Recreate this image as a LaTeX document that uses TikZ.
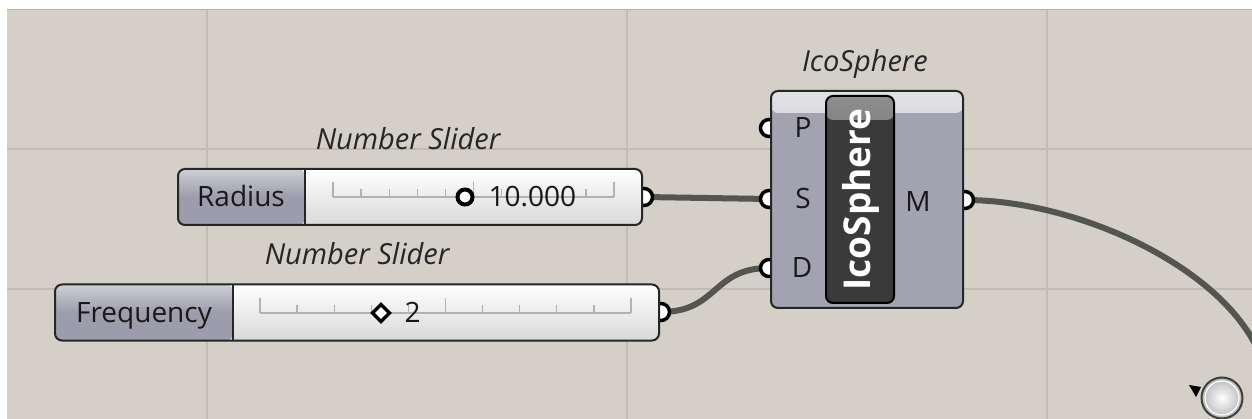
\documentclass[tikz,border=0pt]{standalone}
\usepackage{fontspec}
\setmainfont{Open Sans}
\usepackage{tikz}
\usetikzlibrary{positioning,shapes.misc}

\definecolor{canvas}{HTML}{D4D0C8}
\definecolor{gridline}{HTML}{C1BDB5}
\definecolor{wire}{HTML}{55554F}
\definecolor{tagfill}{HTML}{9C9CAC}
\definecolor{tagtop}{HTML}{CFCFD8}
\definecolor{compfill}{HTML}{A2A2B0}
\definecolor{comptop}{HTML}{E2E2E6}
\definecolor{namefill}{HTML}{3A3A3A}
\definecolor{nametop}{HTML}{8E8E8E}
\definecolor{tickgray}{HTML}{B2B2B2}

\tikzset{
	port/.style={circle,draw=black,fill=white,line width=3.5pt,minimum size=17pt,inner sep=0pt},
	wirepath/.style={draw=wire,line width=6pt},
	sliderbody/.style={draw=black!85,line width=2pt,rounded corners=7pt,top color=white,bottom color=gray!30,minimum height=56pt,inner sep=0pt},
	caption/.style={font=\fontsize{29}{29}\selectfont\itshape,text=black!85,anchor=base},
	paramtext/.style={font=\fontsize{28}{28}\selectfont,text=black!90,anchor=base},
	track/.style={tickgray,line width=1.3pt},
}

\begin{document}
\begin{tikzpicture}[x=1pt,y=-1pt]
				\useasboundingbox (0,0) rectangle (1252,419);
				\fill[white] (0,0) rectangle (1252,419);
				\fill[canvas] (7,9) rectangle (1252,419);
				\draw[gray!60,line width=1.5pt] (7,9.5) -- (1252,9.5);
				% canvas grid
				\draw[gridline,line width=2pt] (207,10) -- (207,419) (627,10) -- (627,419) (1047,10) -- (1047,419);
				\draw[gridline,line width=2pt] (7,149) -- (1252,149) (7,289) -- (1252,289);
				% port positions
				\coordinate []  (radiusout) at (644,197) ;
				\coordinate []  (freqout) at (661,312) ;
				\coordinate []  (Pin) at (769,128) ;
				\coordinate []  (Sin) at (769,199) ;
				\coordinate []  (Din) at (769,268) ;
				\coordinate []  (Mout) at (965,200) ;
				\coordinate []  (offcanvas) at (1262,360) ;
				% wires
				\begin{scope}
				\clip (0,0) rectangle (1252,419);
				\draw[wirepath] (radiusout) -- (Sin);
				\draw[wirepath] (freqout) .. controls (718,312) and (712,268) .. (Din);
				\draw[wirepath] (Mout) .. controls (1080,200) and (1230,270) .. (offcanvas);
				\end{scope}
				% ports
				\node[port] (radiusport) at (radiusout) {};
				\node[port] (freqport) at (freqout) {};
				\node[port] (Pport) at (Pin) {};
				\node[port] (Sport) at (Sin) {};
				\node[port] (Dport) at (Din) {};
				\node[port] (Mport) at (Mout) {};
				% radius slider
				\node[sliderbody,minimum width=464pt,path picture={
					\shade[top color=tagtop,bottom color=tagfill,middle color=tagfill] (path picture bounding box.north west) rectangle ([xshift=127pt]path picture bounding box.south west);
					\draw[black!85,line width=2pt] ([xshift=127pt]path picture bounding box.north west) -- ([xshift=127pt]path picture bounding box.south west);
				}] (radiusslider) at (410,197) {};
				\draw[track] (333,197) -- (614,197);
				\foreach \k in {0,...,10} \draw[track] ({333+28.1*\k},197) -- ({333+28.1*\k},189);
				\draw[track] (333,197) -- (333,182) (614,197) -- (614,182) (473.5,197) -- (473.5,182);
				\node[circle,draw=black,fill=white,line width=4pt,minimum size=15pt,inner sep=0pt] (radiusgrip) at (465,197) {};
				\node[paramtext] (radiuslabel) at (241,207) {Radius};
				\node[paramtext,anchor=base west] (radiusvalue) at (485,207) {10.000};
				\node[caption] (radiuscaption) at (408,150) {Number Slider};
				% frequency slider
				\node[sliderbody,minimum width=604pt,path picture={
					\shade[top color=tagtop,bottom color=tagfill,middle color=tagfill] (path picture bounding box.north west) rectangle ([xshift=178pt]path picture bounding box.south west);
					\draw[black!85,line width=2pt] ([xshift=178pt]path picture bounding box.north west) -- ([xshift=178pt]path picture bounding box.south west);
				}] (freqslider) at (357,312.5) {};
				\draw[track] (260,313) -- (631,313);
				\foreach \k in {0,...,10} \draw[track] ({260+37.1*\k},313) -- ({260+37.1*\k},305);
				\draw[track] (260,313) -- (260,298) (631,313) -- (631,298) (445.5,313) -- (445.5,298);
				\node[draw=black,fill=white,line width=3.5pt,minimum size=12pt,inner sep=0pt,rotate=45] (freqgrip) at (381,313) {};
				\node[paramtext] (freqlabel) at (144,323) {Frequency};
				\node[paramtext,anchor=base west] (freqvalue) at (401,323) {2};
				\node[caption] (freqcaption) at (357,265) {Number Slider};
				% icosphere component
				\node[draw=black!85,line width=2pt,rounded corners=7pt,fill=compfill,minimum width=192pt,minimum height=217pt,inner sep=0pt,path picture={
					\shade[top color=comptop,bottom color=compfill] (path picture bounding box.north west) rectangle ([yshift=-22pt]path picture bounding box.north east);
				}] (icosphere) at (867,199.5) {};
				\node[draw=black,line width=2pt,rounded corners=7pt,fill=namefill,minimum width=68pt,minimum height=207pt,inner sep=0pt,path picture={
					\shade[top color=nametop,bottom color=namefill] (path picture bounding box.north west) rectangle ([yshift=-24pt]path picture bounding box.north east);
				}] (namebox) at (860,199.5) {};
				\node[rotate=90,text=white,font=\fontsize{37}{37}\selectfont\bfseries] (iconame) at (861,199.5) {IcoSphere};
				\node[caption] (icocaption) at (865,72) {IcoSphere};
				\node[paramtext] (Plabel) at (803,138) {P};
				\node[paramtext] (Slabel) at (803,209) {S};
				\node[paramtext] (Dlabel) at (802,278) {D};
				\node[paramtext] (Mlabel) at (918,212) {M};
				% navigation widget
				\shade[inner color=white,outer color=gray!55] (1222,398) circle (20pt);
				\draw[white,line width=1.2pt] (1222,398) circle (17pt);
				\draw[black!75,line width=2pt] (1222,398) circle (20.5pt);
				\fill[black] (1189,385) -- (1201,387) -- (1196,397) -- cycle;
\end{tikzpicture}
\end{document}
